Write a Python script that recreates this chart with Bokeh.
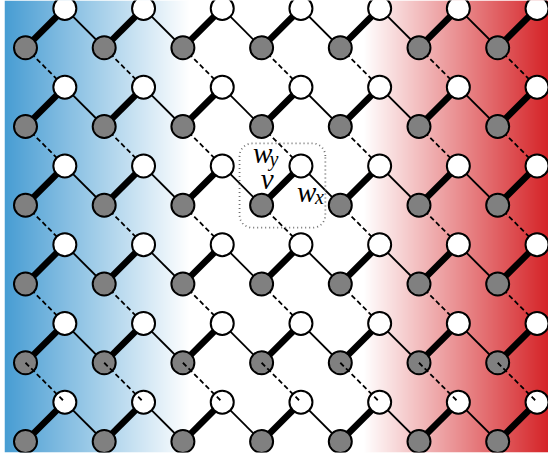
import numpy as np
from bokeh.plotting import figure
from bokeh.models import Range1d
from bokeh.core.properties import value
from bokeh.embed import file_html
from bokeh.resources import INLINE

# Lattice: unit cells indexed by column (x) and row (y, 0 = bottom).
cell_cols = [0, 1, 2, 3, 4, 5, 6]
cell_rows = [0, 1, 2, 3, 4, 5]
# offset of the second (white) site inside a cell
sub_offset = (0.5, 0.5)

# highlighted unit cell and its hopping labels
marked_cell = (3, 3)
label_v = "v"
label_wx = ("w", "x")
label_wy = ("w", "y")

# background shading colours (left / centre / right)
left_rgb = (72, 157, 211)
mid_rgb = (255, 255, 255)
right_rgb = (213, 36, 40)

GRAY = "#808080"

# --- site coordinates -------------------------------------------------------
gx, gy = np.meshgrid(cell_cols, cell_rows)
gx = gx.ravel().astype(float)
gy = gy.ravel().astype(float)
wx = gx + sub_offset[0]
wy = gy + sub_offset[1]

# intracell bond v: gray -> white of same cell
v_x0, v_y0, v_x1, v_y1 = gx, gy, wx, wy
# x-bond w_x: white -> gray of the next cell to the right
mx = gx < max(cell_cols)
wx_x0, wx_y0, wx_x1, wx_y1 = wx[mx], wy[mx], gx[mx] + 1, gy[mx]
# y-bond w_y: gray -> white of the cell below
my = gy > min(cell_rows)
wy_x0, wy_y0, wy_x1, wy_y1 = gx[my], gy[my], wx[my], gy[my] - 1 + sub_offset[1]

# --- figure -----------------------------------------------------------------
x0, x1 = -0.2668, 6.6455
y0, y1 = -0.1396, 5.60
p = figure(width=548, height=460, x_range=Range1d(x0, x1), y_range=Range1d(y0, y1),
           output_backend="svg", toolbar_location=None,
           x_axis_location=None, y_axis_location=None,
           min_border_left=4, min_border_right=0, min_border_top=0, min_border_bottom=8)
p.grid.visible = False
p.outline_line_color = None
p.background_fill_color = "white"
p.border_fill_color = "white"

# horizontal colour shading: blue -> white plateau -> red
N = 544
xs = np.linspace(x0, x1, N)
white_start, white_end = 2.08, 4.30
t_left = np.clip((white_start - xs) / (white_start - x0), 0, 1)
t_right = np.clip((xs - white_end) / (x1 - white_end), 0, 1)
rgb = np.zeros((N, 3))
for k in range(3):
    rgb[:, k] = mid_rgb[k] + (left_rgb[k] - mid_rgb[k]) * t_left + (right_rgb[k] - mid_rgb[k]) * t_right
img = np.zeros((1, N), dtype=np.uint32)
view = img.view(dtype=np.uint8).reshape((1, N, 4))
view[0, :, 0] = rgb[:, 0].round()
view[0, :, 1] = rgb[:, 1].round()
view[0, :, 2] = rgb[:, 2].round()
view[0, :, 3] = 255
p.image_rgba(image=[img], x=x0, y=y0, dw=x1 - x0, dh=y1 - y0)

# bonds
p.segment(wx_x0, wx_y0, wx_x1, wx_y1, line_color="black", line_width=1.8)
late = wy_y0 == 1
p.segment(wy_x0[~late], wy_y0[~late], wy_x1[~late], wy_y1[~late],
          line_color="black", line_width=1.8, line_dash="5 3")
p.segment(v_x0, v_y0, v_x1, v_y1, line_color="black", line_width=6.5)

# sites
p.scatter(gx, gy, size=23, fill_color=GRAY, line_color="black", line_width=2)
p.scatter(wx, wy, size=23, fill_color="white", line_color="black", line_width=2)
p.segment(wy_x0[late], wy_y0[late], wy_x1[late], wy_y1[late],
          line_color="black", line_width=1.8, line_dash="5 3")

# dotted rounded box around the marked unit cell
cx, cy = marked_cell[0] + 0.265, marked_cell[1] + 0.25
half_w, half_h, rad = 0.545, 0.535, 0.16
path_x, path_y = [], []
corners = [(cx + half_w - rad, cy + half_h - rad, 0.0),
           (cx - half_w + rad, cy + half_h - rad, 0.5 * np.pi),
           (cx - half_w + rad, cy - half_h + rad, np.pi),
           (cx + half_w - rad, cy - half_h + rad, 1.5 * np.pi)]
for ccx, ccy, a0 in corners:
    a = np.linspace(a0, a0 + 0.5 * np.pi, 12)
    path_x.extend(ccx + rad * np.cos(a))
    path_y.extend(ccy + rad * np.sin(a))
path_x.append(path_x[0])
path_y.append(path_y[0])
p.line(path_x, path_y, line_color="#6e6e6e", line_width=1.8, line_dash="1 3")

# hopping labels
font = value("Liberation Serif")
mx0, my0 = marked_cell
big, small = "29px", "20px"
p.text([mx0 - 0.11], [my0 + 0.66], text=[label_wy[0]], text_font=font, text_font_style="italic",
       text_font_size=big, text_align="left", text_baseline="alphabetic", text_color="black")
p.text([mx0 + 0.10], [my0 + 0.59], text=[label_wy[1]], text_font=font, text_font_style="italic",
       text_font_size=small, text_align="left", text_baseline="alphabetic", text_color="black")
p.text([mx0 - 0.01], [my0 + 0.33], text=[label_v], text_font=font, text_font_style="italic",
       text_font_size=big, text_align="left", text_baseline="alphabetic", text_color="black")
p.text([mx0 + 0.45], [my0 + 0.165], text=[label_wx[0]], text_font=font, text_font_style="italic",
       text_font_size=big, text_align="left", text_baseline="alphabetic", text_color="black")
p.text([mx0 + 0.68], [my0 + 0.10], text=[label_wx[1]], text_font=font, text_font_style="italic",
       text_font_size=small, text_align="left", text_baseline="alphabetic", text_color="black")

open("out.html", "w").write(file_html(p, INLINE))
